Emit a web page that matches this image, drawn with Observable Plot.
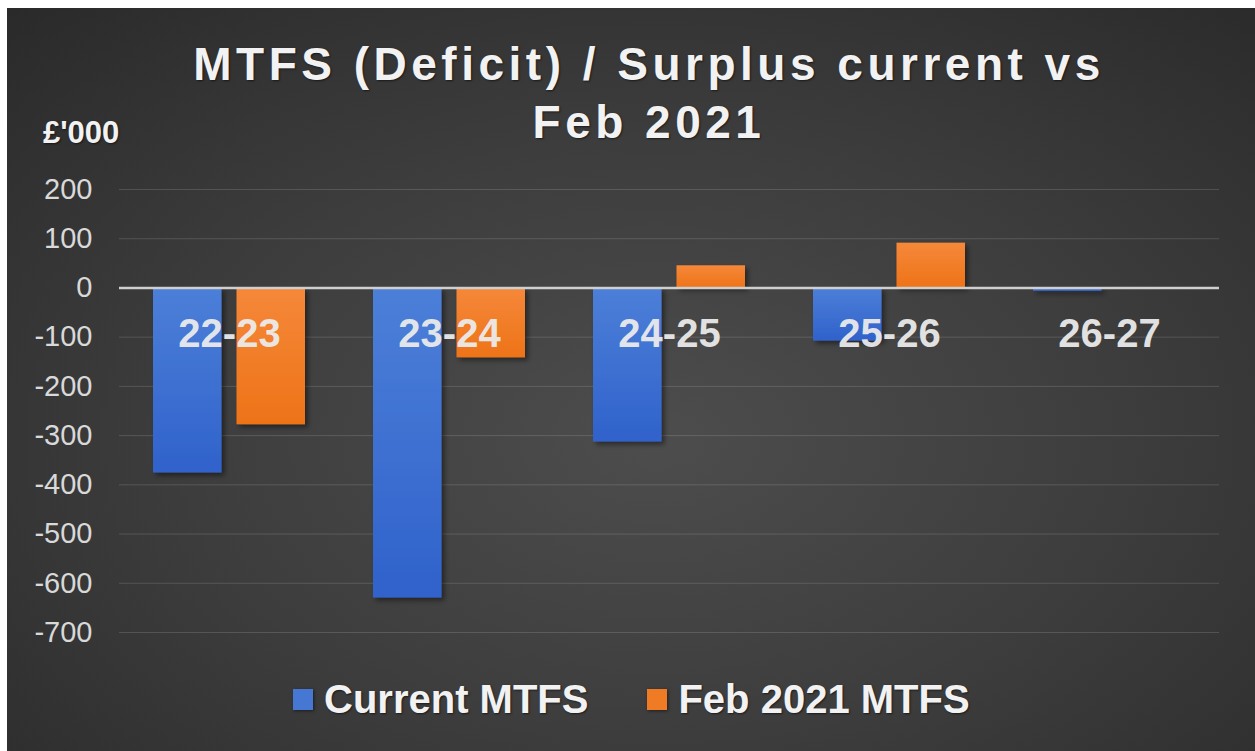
<!DOCTYPE html>
<html>
<head>
<meta charset="utf-8">
<script src="https://cdn.jsdelivr.net/npm/d3@7"></script>
<script src="https://cdn.jsdelivr.net/npm/@observablehq/plot@0.6"></script>
<style>
  html, body { margin: 0; padding: 0; background: #ffffff; width: 1255px; height: 751px; overflow: hidden; }
  #bg { position: absolute; left: 7px; top: 8px; right: 0; bottom: 0;
        background: radial-gradient(ellipse 75% 80% at 52% 58%, #4d4d4d 0%, #3d3d3d 50%, #2a2a2a 100%); }
  .txt { position: absolute; font-family: "Liberation Sans", Arial, sans-serif; font-weight: bold; color: #f2f2f2;
         text-shadow: 1px 1px 2px rgba(0,0,0,0.55); white-space: nowrap; }
  #title { left: 0; width: 1298px; top: 35px; text-align: center; font-size: 46px; line-height: 58px; letter-spacing: 4.5px; }
  #unit { left: 43px; top: 117px; font-size: 31px; line-height: 31px; }
  #chart { position: absolute; left: 0; top: 150px; }
  #legend { position: absolute; left: 293px; top: 679px; display: flex; align-items: center; }
  #legend .item { display: flex; align-items: center; margin-right: 59px; }
  #legend .sw { width: 20px; height: 21px; margin-right: 11px; box-shadow: 1px 1px 3px rgba(0,0,0,0.5); }
  #legend .lab { position: static; font-size: 40px; line-height: 40px; }
</style>
</head>
<body>
<div id="bg"></div>
<div id="title" class="txt">MTFS (Deficit) / Surplus current vs<br>Feb 2021</div>
<div id="unit" class="txt">£'000</div>
<div id="chart"></div>
<div id="legend"></div>
<script>
const categories = ["22-23", "23-24", "24-25", "25-26", "26-27"];
const seriesNames = ["Current MTFS", "Feb 2021 MTFS"];
const currentMTFS = [-376, -630, -313, -108, -7];
const feb2021MTFS = [-278, -142, 45, 91, 0];
const yTicks = [200, 100, 0, -100, -200, -300, -400, -500, -600, -700];
const seriesColors = ["#4677d2", "#f07b25"];
const labelLevel = -100;

const currentRows = categories.map((c, i) => ({category: c, value: currentMTFS[i]}));
const febRows = categories.map((c, i) => ({category: c, value: feb2021MTFS[i]}));

const chart = Plot.plot({
  width: 1255,
  height: 520,
  marginLeft: 119,
  marginRight: 36,
  marginTop: 39,
  marginBottom: 38,
  style: {background: "transparent", fontFamily: "'Liberation Sans', Arial, sans-serif", fontSize: "29px", color: "#d9d9d9", overflow: "visible"},
  x: {domain: categories, paddingInner: 0.31, paddingOuter: 0.155, axis: null},
  y: {domain: [-700, 200], axis: null},
  marks: [
    Plot.ruleY(yTicks.filter(d => d !== 0), {stroke: "#ffffff", strokeOpacity: 0.14, strokeWidth: 1}),
    Plot.axisY(yTicks, {tickSize: 0, tickPadding: 27, tickFormat: d => String(d), label: null, fill: "#d9d9d9", fontSize: 29}),
    Plot.barY(currentRows, {x: "category", y: "value", fill: "url(#gradBlue)", insetRight: 83.5, className: "barsBlue"}),
    Plot.barY(febRows, {x: "category", y: "value", fill: "url(#gradOrange)", insetLeft: 83.5, className: "barsOrange"}),
    Plot.ruleY([0], {stroke: "#cfcfcf", strokeWidth: 2.5}),
    Plot.text(categories, {x: d => d, y: () => labelLevel, text: d => d, fontSize: 40, fontWeight: "bold", fill: "#ececec", fillOpacity: 0.95, dy: -3})
  ]
});
document.getElementById("chart").appendChild(chart);

// gradients and shadow definitions for the bars
const svg = d3.select(chart);
const defs = svg.insert("defs", ":first-child");
const g1 = defs.append("linearGradient").attr("id", "gradBlue").attr("x1", 0).attr("y1", 0).attr("x2", 0).attr("y2", 1);
g1.append("stop").attr("offset", "0%").attr("stop-color", "#4c7fd8");
g1.append("stop").attr("offset", "100%").attr("stop-color", "#3062cb");
const g2 = defs.append("linearGradient").attr("id", "gradOrange").attr("x1", 0).attr("y1", 0).attr("x2", 0).attr("y2", 1);
g2.append("stop").attr("offset", "0%").attr("stop-color", "#f5883a");
g2.append("stop").attr("offset", "100%").attr("stop-color", "#ee7318");
const f = defs.append("filter").attr("id", "shadow").attr("x", "-20%").attr("y", "-20%").attr("width", "140%").attr("height", "140%");
f.append("feDropShadow").attr("dx", 3).attr("dy", 3).attr("stdDeviation", 2.5).attr("flood-color", "#000").attr("flood-opacity", 0.45);
svg.selectAll("g.barsBlue, g.barsOrange").attr("filter", "url(#shadow)");

// legend
const legend = document.getElementById("legend");
seriesNames.forEach((name, i) => {
  const item = document.createElement("div");
  item.className = "item";
  const sw = document.createElement("div");
  sw.className = "sw";
  sw.style.background = seriesColors[i];
  const lab = document.createElement("div");
  lab.className = "txt lab";
  lab.textContent = name;
  item.appendChild(sw);
  item.appendChild(lab);
  legend.appendChild(item);
});
</script>
</body>
</html>
